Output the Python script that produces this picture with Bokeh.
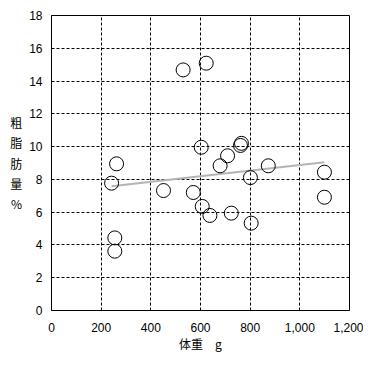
import numpy as np
from bokeh.plotting import figure
from bokeh.models import NumeralTickFormatter, FixedTicker, Range1d
from bokeh.embed import file_html
from bokeh.resources import INLINE

# data
weight_g = [242, 262, 255, 255, 451, 530, 623, 603, 765, 761, 709,
            679, 801, 873, 1099, 571, 607, 638, 724, 804, 1099]
fat_pct = [7.77, 8.95, 4.43, 3.62, 7.32, 14.68, 15.09, 9.96, 10.2, 10.07, 9.44,
           8.83, 8.11, 8.83, 8.44, 7.2, 6.35, 5.8, 5.94, 5.33, 6.91]
x_ticks = [0, 200, 400, 600, 800, 1000, 1200]
y_ticks = [0, 2, 4, 6, 8, 10, 12, 14, 16, 18]

JP = "Noto Sans CJK JP"
NUM = "Liberation Sans"

p = figure(frame_width=298, frame_height=295,
           x_range=Range1d(0, 1200), y_range=Range1d(0, 18),
           output_backend="svg", toolbar_location=None,
           min_border_left=51, min_border_top=15, min_border_right=14, min_border_bottom=40)
p.background_fill_color = "white"
p.border_fill_color = "white"
p.outline_line_color = "black"
p.outline_line_width = 1

for ax in (p.xaxis[0], p.yaxis[0]):
    ax.major_tick_in = 0
    ax.major_tick_out = 0
    ax.minor_tick_in = 0
    ax.minor_tick_out = 0
    ax.axis_line_color = "black"
    ax.major_label_text_font = NUM
    ax.major_label_text_font_size = "12px"
    ax.major_label_text_color = "black"
    ax.axis_label_text_font = JP
    ax.axis_label_text_font_size = "12px"
    ax.axis_label_text_font_style = "normal"
    ax.axis_label_text_color = "black"

p.xaxis.ticker = FixedTicker(ticks=x_ticks)
p.yaxis.ticker = FixedTicker(ticks=y_ticks)
p.xaxis.formatter = NumeralTickFormatter(format="0,0")
p.xaxis.major_label_standoff = 12
p.yaxis.major_label_standoff = 9
p.xaxis.axis_label = "体重　g"
p.xaxis.axis_label_standoff = 0
p.yaxis.axis_label = "粗\n脂\n肪\n量\n%"
p.yaxis.axis_label_orientation = "horizontal"
p.yaxis.axis_label_standoff = 4

for g in (p.xgrid[0], p.ygrid[0]):
    g.grid_line_color = "black"
    g.grid_line_dash = "3 2"
    g.grid_line_width = 1

# regression trend line
coef = np.polyfit(weight_g, fat_pct, 1)
lx = np.array([min(weight_g), max(weight_g)])
ly = coef[0] * lx + coef[1]
p.line(lx, ly, line_color="#b4b4b4", line_width=2)

p.scatter(weight_g, fat_pct, marker="circle", size=14,
          fill_color=None, line_color="black", line_width=1)

open("out.html", "w").write(file_html(p, INLINE))
